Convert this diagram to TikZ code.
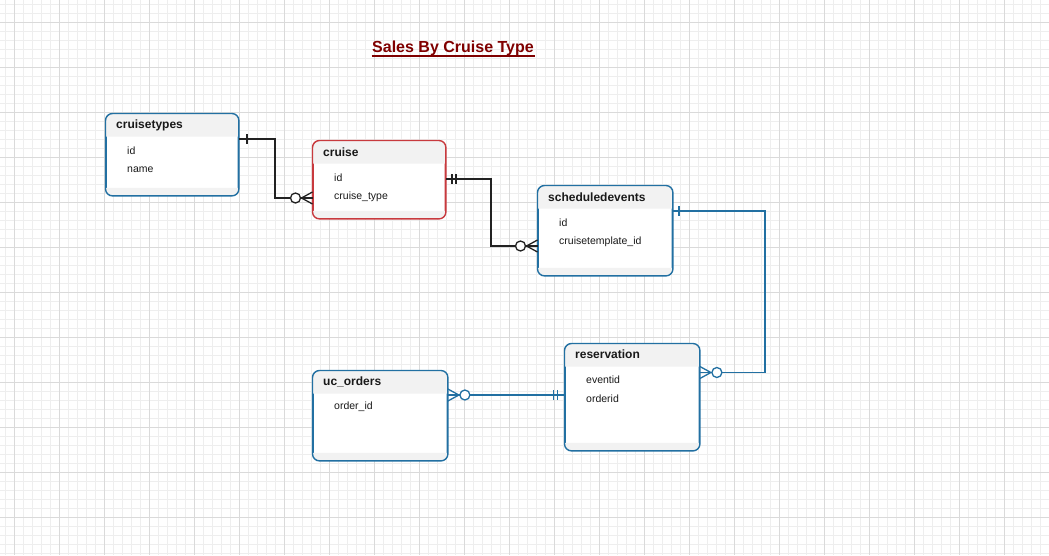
\documentclass[tikz,border=0pt]{standalone}
\usepackage{fontspec}
\setmainfont{Liberation Sans}
\definecolor{erblue}{RGB}{34,112,162}
\definecolor{erred}{RGB}{200,58,62}
\definecolor{erline}{RGB}{34,34,34}
\definecolor{titlered}{RGB}{128,0,0}
\definecolor{hdr}{RGB}{242,242,242}
\definecolor{gridminor}{RGB}{238,238,238}
\definecolor{gridmajor}{RGB}{218,218,218}
\tikzset{
  erbox/.style={draw=#1, line width=1.4pt, rounded corners=7pt, fill=white, anchor=north west, inner sep=0pt},
  ertitle/.style={font=\bfseries\fontsize{12}{14}\selectfont, anchor=west, inner sep=0pt, text=black!90},
  erfield/.style={font=\fontsize{10.5}{12}\selectfont, anchor=west, inner sep=0pt, text=black!90},
  conn/.style={line width=1.4pt, draw=#1},
}
\newcommand{\zeromany}[3]{%
  \begin{scope}[shift={(#1)}, xscale=#2]
    \draw[conn=#3, line width=1.3pt] (0,-6) -- (11,0) -- (0,6);
    \draw[conn=#3, line width=1.3pt] (0,0) -- (12,0);
    \draw[conn=#3, line width=1.3pt, fill=white] (17,0) circle (5pt);
  \end{scope}}
\newcommand{\onebar}[3]{%
  \draw[conn=#3, line width=1.2pt] ([xshift=#2 pt]#1) ++(0,-5) -- ++(0,10);}
\newcommand{\bands}[2]{%
  \fill[hdr] ([yshift=-23pt]#1.north west) [rounded corners=7pt] -- (#1.north west) -- (#1.north east) [sharp corners] -- ([yshift=-23pt]#1.north east) -- cycle;
  \fill[hdr] ([yshift=8pt]#1.south west) -- ([yshift=8pt]#1.south east) [rounded corners=7pt] -- (#1.south east) -- (#1.south west) [sharp corners] -- cycle;
  \draw[line width=1.4pt, draw=#2, rounded corners=7pt] (#1.north west) rectangle (#1.south east);}
\begin{document}
\begin{tikzpicture}[x=1pt, y=-1pt]
\useasboundingbox (0,0) rectangle (1049,555);
\fill[white] (0,0) rectangle (1049,555);
% grid
\foreach \x in {5,14,...,1049} \draw[gridminor, line width=0.7pt] (\x,0) -- (\x,555);
\foreach \y in {4,13,...,555} \draw[gridminor, line width=0.7pt] (0,\y) -- (1049,\y);
\foreach \x in {14,59,...,1049} \draw[gridmajor, line width=0.7pt] (\x,0) -- (\x,555);
\foreach \y in {22,67,...,555} \draw[gridmajor, line width=0.7pt] (0,\y) -- (1049,\y);

% title
\node[font=\bfseries\fontsize{16}{18}\selectfont, text=titlered, inner sep=0pt] (title) at (453,48.5) {Sales By Cruise Type};
\draw[titlered, line width=1.2pt] (371.5,56) -- (534.5,56);

% boxes
\node[erbox=erblue, minimum width=132pt, minimum height=81pt] (ct) at (105.5,113.5) {};
\bands{ct}{erblue}
\node[erbox=erred, minimum width=132pt, minimum height=77pt] (cr) at (312.5,140.5) {};
\bands{cr}{erred}
\node[erbox=erblue, minimum width=134pt, minimum height=89pt] (se) at (537.5,185.5) {};
\bands{se}{erblue}
\node[erbox=erblue, minimum width=134pt, minimum height=89pt] (uo) at (312.5,370.5) {};
\bands{uo}{erblue}
\node[erbox=erblue, minimum width=134pt, minimum height=106pt] (rs) at (564.5,343.5) {};
\bands{rs}{erblue}

% texts
\node[ertitle] (ctt) at (116,125.5) {cruisetypes};
\node[erfield] (ct1) at (127,150.5) {id};
\node[erfield] (ct2) at (127,169.5) {name};
\node[ertitle] (crt) at (323,152.5) {cruise};
\node[erfield] (cr1) at (334,177.5) {id};
\node[erfield] (cr2) at (334,196.5) {cruise\_type};
\node[ertitle] (set) at (548,197.5) {scheduledevents};
\node[erfield] (se1) at (559,222.5) {id};
\node[erfield] (se2) at (559,241.5) {cruisetemplate\_id};
\node[ertitle] (uot) at (323,381.5) {uc\_orders};
\node[erfield] (uo1) at (334,406.5) {order\_id};
\node[ertitle] (rst) at (575,354.5) {reservation};
\node[erfield] (rs1) at (586,379.5) {eventid};
\node[erfield] (rs2) at (586,398.5) {orderid};

% connector anchors
\coordinate (a1) at (ct.north east |- 0,139);
\coordinate (b1) at (cr.north west |- 0,198);
\coordinate (a2) at (cr.north east |- 0,179);
\coordinate (b2) at (se.north west |- 0,246);
\coordinate (a3) at (se.north east |- 0,211);
\coordinate (b3) at (rs.north east |- 0,372.5);
\coordinate (a4) at (uo.north east |- 0,395);
\coordinate (b4) at (rs.north west |- 0,395);

% cruisetypes -> cruise
\draw[conn=erline] (a1) -| (275,170) |- ([xshift=-22pt]b1);
\onebar{a1}{8}{erline}
\zeromany{b1}{-1}{erline}
% cruise -> scheduledevents
\draw[conn=erline] (a2) -| (491,210) |- ([xshift=-22pt]b2);
\onebar{a2}{6}{erline}
\onebar{a2}{10}{erline}
\zeromany{b2}{-1}{erline}
% scheduledevents -> reservation
\draw[conn=erblue] (a3) -| (765,300) |- ([xshift=22pt]b3);
\onebar{a3}{6}{erblue}
\zeromany{b3}{1}{erblue}
% uc_orders -> reservation
\draw[conn=erblue] ([xshift=22pt]a4) -- (b4);
\onebar{b4}{-11}{erblue}
\onebar{b4}{-7}{erblue}
\zeromany{a4}{1}{erblue}
\end{tikzpicture}
\end{document}
